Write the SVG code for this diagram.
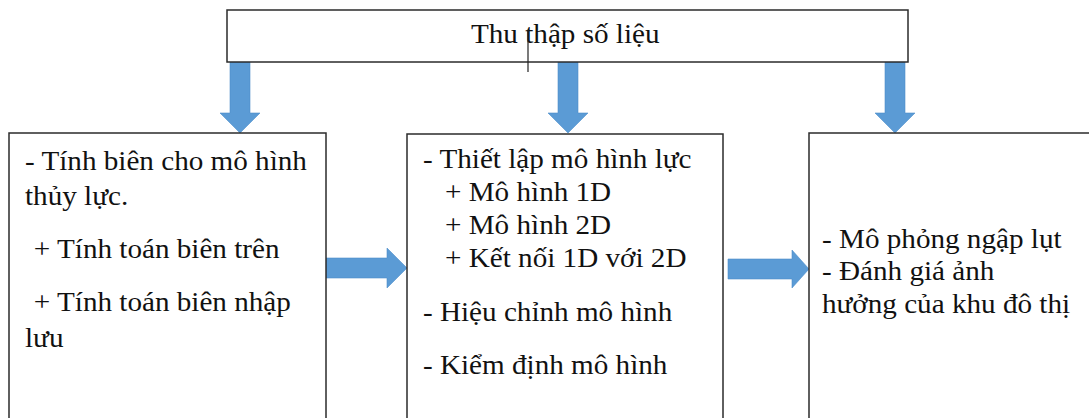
<svg xmlns="http://www.w3.org/2000/svg" width="1089" height="418" viewBox="0 0 1089 418">
<defs>
<style>
.box{fill:#fff;stroke:#2b2b2b;stroke-width:1.5}
.arr{fill:#5b9bd5;stroke:#4f8fcb;stroke-width:0.6}
</style>
</defs>
<rect width="1089" height="418" fill="#fff"/>
<g id="connectors">
<polygon class="arr" points="230,62 250,62 250,113 260,113 240,133 220,113 230,113"/>
<polygon class="arr" points="558,62 578,62 578,113 588,113 568,133 548,113 558,113"/>
<polygon class="arr" points="885,62 905,62 905,113 915,113 895,133 875,113 885,113"/>
<polygon class="arr" points="326,258 387,258 387,248 407,268 387,288 387,278 326,278"/>
<polygon class="arr" points="728,259 792,259 792,250 809,269 792,288 792,279 728,279"/>
</g>
<g font-family="Liberation Serif, Times New Roman, serif" font-size="26.5" fill="#111">
<g id="top">
<rect class="box" x="227" y="10" width="681" height="52"/>
<text transform="translate(471,43) scale(1.1,1)">Thu thập số liệu</text>
<line x1="528" y1="30" x2="528" y2="72" stroke="#222" stroke-width="1.2"/>
</g>
<g id="left">
<rect class="box" x="9" y="133" width="317" height="300"/>
<g transform="translate(25,0) scale(1.1,1)">
<text x="0" y="170">- Tính biên cho mô hình</text>
<text x="0" y="205">thủy lực.</text>
<text x="8" y="258">+ Tính toán biên trên</text>
<text x="8" y="311">+ Tính toán biên nhập</text>
<text x="0" y="347">lưu</text>
</g>
</g>
<g id="middle">
<rect class="box" x="407" y="134" width="316" height="300"/>
<g transform="translate(423,0) scale(1.1,1)">
<text x="0" y="168">- Thiết lập mô hình lực</text>
<text x="20" y="201">+ Mô hình 1D</text>
<text x="20" y="234">+ Mô hình 2D</text>
<text x="20" y="267">+ Kết nối 1D với 2D</text>
<text x="0" y="321">- Hiệu chỉnh mô hình</text>
<text x="0" y="374">- Kiểm định mô hình</text>
</g>
</g>
<g id="right">
<rect class="box" x="809" y="133" width="300" height="300"/>
<g transform="translate(822,0) scale(1.1,1)">
<text x="0" y="248">- Mô phỏng ngập lụt</text>
<text x="0" y="280">- Đánh giá ảnh</text>
<text x="0" y="313">hưởng của khu đô thị</text>
</g>
</g>
</g>
</svg>
